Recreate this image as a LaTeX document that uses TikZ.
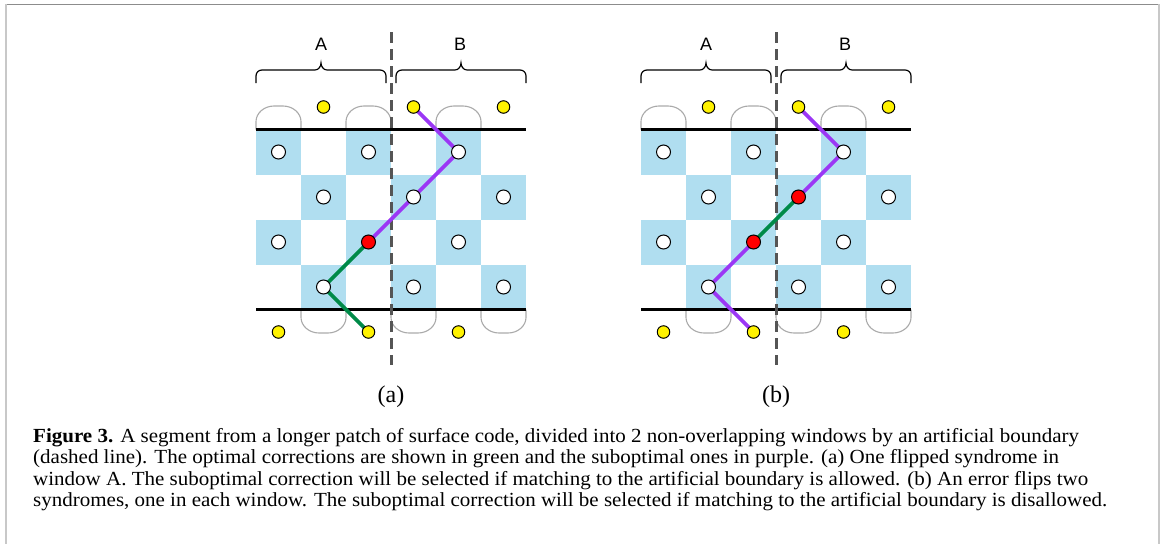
\documentclass[tikz,border=0pt]{standalone}
\usepackage{fontspec}
\setmainfont{Liberation Serif}
\newfontfamily\capfont[FakeStretch=1.05]{Liberation Serif}
\newfontfamily\labelsans{Liberation Sans}

\definecolor{tileblue}{RGB}{176,222,240}
\definecolor{bdryyellow}{RGB}{255,242,0}
\definecolor{flipred}{RGB}{255,0,0}
\definecolor{optgreen}{RGB}{0,138,72}
\definecolor{subpurple}{RGB}{155,55,245}
\definecolor{archgray}{RGB}{170,170,170}
\definecolor{cutgray}{RGB}{85,85,85}
\definecolor{frametop}{RGB}{140,140,140}
\definecolor{frameside}{RGB}{200,200,200}

\pgfdeclarelayer{tiles}
\pgfdeclarelayer{links}
\pgfsetlayers{tiles,links,main}

% Common parts of one patch: checkerboard, rough boundaries, boundary
% syndromes, window braces and the artificial cut.  #1 = name prefix.
\newcommand{\patchbase}[1]{%
  \begin{pgfonlayer}{tiles}
    \foreach \r in {1,...,4}{%
      \foreach \c in {1,...,6}{%
        \pgfmathtruncatemacro\parity{mod(\r+\c,2)}%
        \ifnum\parity=0
          \fill[tile] ({211+45*\c},{84.5+45*\r}) rectangle +(45,45);
        \fi
      }%
    }
    \foreach \c in {1,3,5}
      \draw[archline] ({211+45*\c},129.5) -- ++(0,-8)
        .. controls +(0,-8.3) and +(-9.9,0) .. ++(18,-15.5) -- ++(9,0)
        .. controls +(9.9,0) and +(0,-8.3) .. ++(18,15.5) -- ++(0,8);
    \foreach \c in {2,4,6}
      \draw[archline] ({211+45*\c},309.5) -- ++(0,8)
        .. controls +(0,8.3) and +(-9.9,0) .. ++(18,15.5) -- ++(9,0)
        .. controls +(9.9,0) and +(0,8.3) .. ++(18,-15.5) -- ++(0,-8);
    \draw[rimline] (256,129.5) -- (526,129.5);
    \draw[rimline] (256,309.5) -- (526,309.5);
    \coordinate (#1-cuttop) at (391.5,32);
    \coordinate (#1-cutbot) at (391.5,365);
    \draw[cutline] (#1-cuttop) -- (#1-cutbot);
  \end{pgfonlayer}
  % boundary syndromes
  \foreach \c in {2,4,6}
    \node[bdry] (#1-0-\c) at ({233.5+45*\c},107) {};
  \foreach \c in {1,3,5}
    \node[bdry] (#1-5-\c) at ({233.5+45*\c},332) {};
  % window braces
  \draw[braceline] (256,83) -- (256,76) .. controls (256,72.5) and (258.5,70) .. (262,70)
    -- (315,70) .. controls (318.5,70) and (321,66.5) .. (321,63)
    .. controls (321,66.5) and (323.5,70) .. (327,70)
    -- (380,70) .. controls (383.5,70) and (386,72.5) .. (386,76) -- (386,83);
  \draw[braceline] (396,83) -- (396,76) .. controls (396,72.5) and (398.5,70) .. (402,70)
    -- (455,70) .. controls (458.5,70) and (461,66.5) .. (461,63)
    .. controls (461,66.5) and (463.5,70) .. (467,70)
    -- (520,70) .. controls (523.5,70) and (526,72.5) .. (526,76) -- (526,83);
  \node[winlabel] (#1-winA) at (321,44) {A};
  \node[winlabel] (#1-winB) at (460,44) {B};
}

\begin{document}
\begin{tikzpicture}[x=1pt,y=-1pt,
  tile/.style={fill=tileblue},
  archline/.style={draw=archgray, line width=1.1pt},
  rimline/.style={draw=black, line width=2.4pt},
  cutline/.style={draw=cutgray, line width=3.4pt, dash pattern=on 10.5pt off 6.5pt},
  braceline/.style={draw=black, line width=1.2pt},
  synd/.style={circle, draw=black, line width=1pt, minimum size=14pt, inner sep=0pt},
  bdry/.style={circle, draw=black, line width=1pt, fill=bdryyellow, minimum size=12.5pt, inner sep=0pt},
  optline/.style={draw=optgreen, line width=3.6pt},
  subline/.style={draw=subpurple, line width=3.6pt},
  winlabel/.style={font=\labelsans\fontsize{18}{18}\selectfont, inner sep=0pt},
  panellabel/.style={font=\fontsize{24}{24}\selectfont, inner sep=0pt},
  capline/.style={anchor=base west, inner sep=0pt, font=\capfont\fontsize{20}{22}\selectfont}]
\useasboundingbox (0,0) rectangle (1166,544);

% page frame
\draw[frametop, line width=1pt] (5,4) -- (1160,4);
\draw[frameside, line width=2pt] (6,4) -- (6,544);
\draw[frameside, line width=2pt] (1159,4) -- (1159,544);

% ---------- panel (a) ----------
\patchbase{a}
\foreach \r/\c/\f in {1/1/white,1/3/white,1/5/white,2/2/white,2/4/white,2/6/white,
                      3/1/white,3/3/flipred,3/5/white,4/2/white,4/4/white,4/6/white}
  \node[synd, fill=\f] (a-\r-\c) at ({233.5+45*\c},{107+45*\r}) {};
\begin{pgfonlayer}{links}
  \draw[subline, line join=round] (a-0-4.center) -- (a-1-5.center) -- (a-2-4.center) -- (a-3-3.center);
  \draw[optline, line join=round] (a-3-3.center) -- (a-4-2.center) -- (a-5-3.center);
\end{pgfonlayer}
\node[panellabel] (lbla) at (391,397) {(a)};

% ---------- panel (b) ----------
\begin{scope}[xshift=385pt]
\patchbase{b}
\foreach \r/\c/\f in {1/1/white,1/3/white,1/5/white,2/2/white,2/4/flipred,2/6/white,
                      3/1/white,3/3/flipred,3/5/white,4/2/white,4/4/white,4/6/white}
  \node[synd, fill=\f] (b-\r-\c) at ({233.5+45*\c},{107+45*\r}) {};
\begin{pgfonlayer}{links}
  \draw[subline, line join=round] (b-0-4.center) -- (b-1-5.center) -- (b-2-4.center);
  \draw[optline] (b-2-4.center) -- (b-3-3.center);
  \draw[subline, line join=round] (b-3-3.center) -- (b-4-2.center) -- (b-5-3.center);
\end{pgfonlayer}
\node[panellabel] (lblb) at (391,397) {(b)};
\end{scope}

% ---------- caption ----------
\node[capline] (cap1) at (33,442) {\textbf{Figure 3.} A segment from a longer patch of surface code, divided into 2 non-overlapping windows by an artificial boundary};
\node[capline] (cap2) at (33,463.5) {(dashed line). The optimal corrections are shown in green and the suboptimal ones in purple. (a) One flipped syndrome in};
\node[capline] (cap3) at (33,485) {window A. The suboptimal correction will be selected if matching to the artificial boundary is allowed. (b) An error flips two};
\node[capline] (cap4) at (33,506.5) {syndromes, one in each window. The suboptimal correction will be selected if matching to the artificial boundary is disallowed.};
\end{tikzpicture}
\end{document}
